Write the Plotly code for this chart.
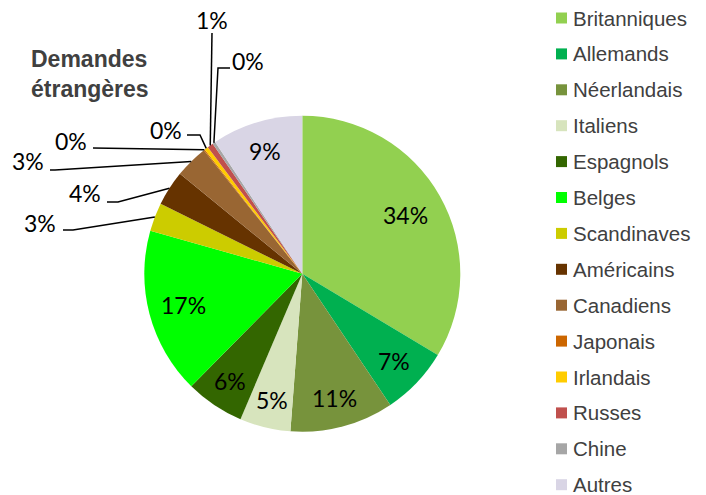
import math
import plotly.graph_objects as go

# ---- data ----
labels = ["Britanniques", "Allemands", "Néerlandais", "Italiens", "Espagnols", "Belges",
          "Scandinaves", "Américains", "Canadiens", "Japonais", "Irlandais", "Russes",
          "Chine", "Autres"]
values = [33.6, 7.0, 10.6, 5.2, 6.0, 17.0, 2.9, 3.6, 3.4, 0.1, 0.4, 0.6, 0.3, 9.3]
colors = ["#92D050", "#00B050", "#77933C", "#D7E4BD", "#336600", "#00FF00", "#CCCC00",
          "#663300", "#996633", "#CC6600", "#FFCC00", "#C0504D", "#A6A6A6", "#D9D5E5"]
title_text = "Demandes<br>étrangères"

W, H = 706, 495
CX, CY, R = 302.3, 273.8, 158.0

def px(x):
    return x / W

def py(y):
    return 1 - y / H

fig = go.Figure(go.Pie(
    labels=labels, values=values, sort=False, direction="clockwise", rotation=0,
    marker=dict(colors=colors, line=dict(width=0)),
    textinfo="none", hoverinfo="label+percent", showlegend=False,
    domain=dict(x=[px(CX - R), px(CX + R)], y=[py(CY + R), py(CY - R)]),
))

total = sum(values)
cum = 0.0
mids = []
for v in values:
    mids.append((cum + v / 2) / total * 2 * math.pi)
    cum += v

def pct(i):
    return "%d%%" % round(values[i] / total * 100)

def edge(i, f=1.0):
    a = mids[i]
    return CX + f * R * math.sin(a), CY - f * R * math.cos(a)

annotations = []
shapes = []

# inside labels (radial position as fraction of radius)
inside = {0: 0.75, 1: 0.80, 2: 0.81, 3: 0.82, 4: 0.82, 5: 0.78, 13: 0.81}
for i, f in inside.items():
    x, y = edge(i, f)
    annotations.append(dict(x=px(x), y=py(y), xref="paper", yref="paper", text=pct(i),
                            showarrow=False, font=dict(family="Lato", size=23, color="#000000"),
                            xanchor="center", yanchor="middle"))

# outside labels: text centre + elbow points (pixels)
outside = {
    6: ((40, 223), [(63, 230), (73, 230)]),
    7: ((85, 193), [(107, 202), (118, 202)]),
    8: ((28, 161), [(50, 170), (55, 170)]),
    9: ((71, 141), [(93, 148)]),
    10: ((166, 130), [(187, 135), (200, 135)]),
    11: ((212, 20), [(212, 33)]),
    12: ((248, 61), [(230, 68), (218, 68)]),
}
for i, (tc, pts) in outside.items():
    annotations.append(dict(x=px(tc[0]), y=py(tc[1]), xref="paper", yref="paper", text=pct(i),
                            showarrow=False, font=dict(family="Lato", size=23, color="#000000"),
                            xanchor="center", yanchor="middle"))
    ex, ey = edge(i)
    allp = pts + [(ex, ey)]
    path = "M %f,%f " % (px(allp[0][0]), py(allp[0][1])) + " ".join(
        "L %f,%f" % (px(a), py(b)) for a, b in allp[1:])
    shapes.append(dict(type="path", xref="paper", yref="paper", path=path,
                       line=dict(color="#000000", width=1.5)))

# title
annotations.append(dict(x=px(29), y=py(44), xref="paper", yref="paper", text="<b>" + title_text + "</b>",
                        showarrow=False, align="left", xanchor="left", yanchor="top",
                        font=dict(family="Liberation Sans", size=23, color="#404040")))

# legend (manual)
for k, lab in enumerate(labels):
    yc = 18 + k * 35.9
    shapes.append(dict(type="rect", xref="paper", yref="paper",
                       x0=px(556), x1=px(567), y0=py(yc + 5.5), y1=py(yc - 5.5),
                       fillcolor=colors[k], line=dict(width=0)))
    annotations.append(dict(x=px(571), y=py(yc), xref="paper", yref="paper", text=lab,
                            showarrow=False, xanchor="left", yanchor="middle",
                            font=dict(family="Liberation Sans", size=20.5, color="#404040")))

fig.update_layout(width=W, height=H, margin=dict(l=0, r=0, t=0, b=0),
                  paper_bgcolor="white", plot_bgcolor="white",
                  annotations=annotations, shapes=shapes)

fig.write_html("out.html", config={"displayModeBar": False},
               post_script="document.body.style.margin='0';document.body.style.overflow='hidden';")
